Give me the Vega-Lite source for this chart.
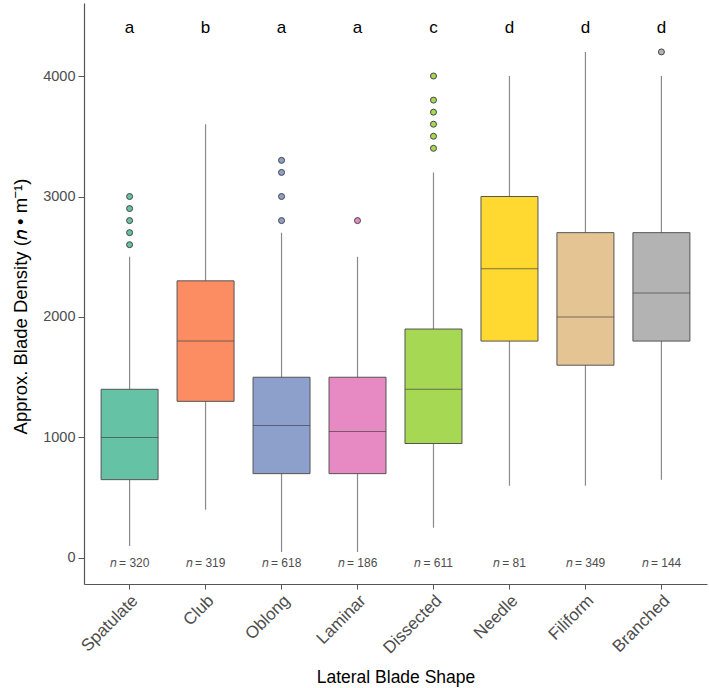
{
  "$schema": "https://vega.github.io/schema/vega-lite/v6.json",
  "autosize": {"type": "none"},
  "padding": {"left": 84, "top": 3, "right": 2, "bottom": 104},
  "width": 623,
  "height": 581,
  "background": "white",
  "config": {"view": {"stroke": null}, "font": "Liberation Sans"},
  "datasets": {
    "boxes": [
      {"shape": "Spatulate", "lo": 100, "q1": 650, "med": 1000, "q3": 1400, "hi": 2500, "n": "𝑛 = 320", "letter": "a"},
      {"shape": "Club", "lo": 400, "q1": 1300, "med": 1800, "q3": 2300, "hi": 3600, "n": "𝑛 = 319", "letter": "b"},
      {"shape": "Oblong", "lo": 50, "q1": 700, "med": 1100, "q3": 1500, "hi": 2700, "n": "𝑛 = 618", "letter": "a"},
      {"shape": "Laminar", "lo": 50, "q1": 700, "med": 1050, "q3": 1500, "hi": 2500, "n": "𝑛 = 186", "letter": "a"},
      {"shape": "Dissected", "lo": 250, "q1": 950, "med": 1400, "q3": 1900, "hi": 3200, "n": "𝑛 = 611", "letter": "c"},
      {"shape": "Needle", "lo": 600, "q1": 1800, "med": 2400, "q3": 3000, "hi": 4000, "n": "𝑛 = 81", "letter": "d"},
      {"shape": "Filiform", "lo": 600, "q1": 1600, "med": 2000, "q3": 2700, "hi": 4200, "n": "𝑛 = 349", "letter": "d"},
      {"shape": "Branched", "lo": 650, "q1": 1800, "med": 2200, "q3": 2700, "hi": 4000, "n": "𝑛 = 144", "letter": "d"}
    ],
    "outliers": [
      {"shape": "Spatulate", "v": 2600}, {"shape": "Spatulate", "v": 2700}, {"shape": "Spatulate", "v": 2800}, {"shape": "Spatulate", "v": 2900}, {"shape": "Spatulate", "v": 3000},
      {"shape": "Oblong", "v": 2800}, {"shape": "Oblong", "v": 3000}, {"shape": "Oblong", "v": 3200}, {"shape": "Oblong", "v": 3300},
      {"shape": "Laminar", "v": 2800},
      {"shape": "Dissected", "v": 3400}, {"shape": "Dissected", "v": 3500}, {"shape": "Dissected", "v": 3600}, {"shape": "Dissected", "v": 3700}, {"shape": "Dissected", "v": 3800}, {"shape": "Dissected", "v": 4000},
      {"shape": "Branched", "v": 4200}
    ]
  },
  "encoding": {
    "x": {
      "field": "shape", "type": "nominal",
      "sort": ["Spatulate", "Club", "Oblong", "Laminar", "Dissected", "Needle", "Filiform", "Branched"],
      "scale": {"paddingInner": 0, "paddingOuter": 0.1},
      "axis": {
        "title": "Lateral Blade Shape", "titleFontSize": 17.5, "titleColor": "#000000", "titleFontWeight": "normal",
        "titleY": 93, "titleBaseline": "middle",
        "labelAngle": -45, "labelAlign": "right", "labelBaseline": "top", "labelFontSize": 17, "labelColor": "#4d4d4d", "labelPadding": 3,
        "domainColor": "#555555", "domainWidth": 1.2, "tickColor": "#555555", "tickSize": 5, "grid": false
      }
    }
  },
  "layer": [
    {
      "data": {"name": "boxes"},
      "mark": {"type": "rule", "color": "#8a8a8a", "strokeWidth": 1.2},
      "encoding": {
        "y": {
          "field": "lo", "type": "quantitative",
          "scale": {"domain": [-216, 4606], "nice": false, "zero": false},
          "axis": {
            "title": "Approx. Blade Density (𝑛 • m⁻¹)", "titleFontSize": 18.5, "titleColor": "#000000", "titleFontWeight": "normal",
            "titleY": 303, "titlePadding": 12,
            "values": [0, 1000, 2000, 3000, 4000], "format": "d", "labelFontSize": 14.5, "labelColor": "#4d4d4d", "labelPadding": 3,
            "domainColor": "#555555", "domainWidth": 1.2, "tickColor": "#555555", "tickSize": 6, "grid": false
          }
        },
        "y2": {"field": "hi"}
      }
    },
    {
      "data": {"name": "boxes"},
      "mark": {"type": "bar", "width": {"band": 0.75}, "stroke": "#555555", "strokeWidth": 1},
      "encoding": {
        "y": {"field": "q1", "type": "quantitative"},
        "y2": {"field": "q3"},
        "color": {
          "field": "shape", "type": "nominal", "legend": null,
          "scale": {
            "domain": ["Spatulate", "Club", "Oblong", "Laminar", "Dissected", "Needle", "Filiform", "Branched"],
            "range": ["#66c2a5", "#fc8d62", "#8da0cb", "#e78ac3", "#a6d854", "#ffd92f", "#e5c494", "#b3b3b3"]
          }
        }
      }
    },
    {
      "data": {"name": "boxes"},
      "mark": {"type": "tick", "color": "#444444", "thickness": 1, "size": 57, "orient": "horizontal"},
      "encoding": {"y": {"field": "med", "type": "quantitative"}}
    },
    {
      "data": {"name": "outliers"},
      "mark": {"type": "point", "filled": true, "size": 36, "stroke": "#444444", "strokeWidth": 1, "opacity": 1},
      "encoding": {
        "y": {"field": "v", "type": "quantitative"},
        "fill": {"field": "shape", "type": "nominal", "legend": null,
          "scale": {
            "domain": ["Spatulate", "Club", "Oblong", "Laminar", "Dissected", "Needle", "Filiform", "Branched"],
            "range": ["#66c2a5", "#fc8d62", "#8da0cb", "#e78ac3", "#a6d854", "#ffd92f", "#e5c494", "#b3b3b3"]
          }}
      }
    },
    {
      "data": {"name": "boxes"},
      "mark": {"type": "text", "fontSize": 17, "color": "#000000", "baseline": "middle"},
      "encoding": {"y": {"datum": 4400, "type": "quantitative"}, "text": {"field": "letter"}}
    },
    {
      "data": {"name": "boxes"},
      "mark": {"type": "text", "fontSize": 12, "color": "#4d4d4d", "baseline": "middle"},
      "encoding": {"y": {"datum": -45, "type": "quantitative"}, "text": {"field": "n"}}
    }
  ]
}
